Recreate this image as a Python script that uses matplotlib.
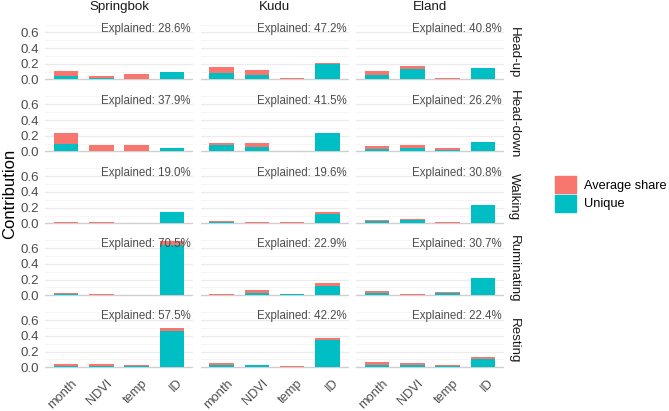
import matplotlib
matplotlib.use("Agg")
import matplotlib.pyplot as plt
from matplotlib.patches import Patch
import matplotlib.transforms as mtrans
import numpy as np

plt.rcParams['font.family'] = ['Liberation Sans', 'DejaVu Sans']

species = ['Springbok', 'Kudu', 'Eland']
behaviours = ['Head-up', 'Head-down', 'Walking', 'Ruminating', 'Resting']
predictors = ['month', 'NDVI', 'temp', 'ID']

# explained variance (%), rows = behaviour, cols = species
explained = [
    [28.6, 47.2, 40.8],
    [37.9, 41.5, 26.2],
    [19.0, 19.6, 30.8],
    [70.5, 22.9, 30.7],
    [57.5, 42.2, 22.4],
]

# unique contribution per behaviour / species / predictor
unique = [
    [[0.046, 0.020, 0.000, 0.100], [0.080, 0.054, 0.000, 0.196], [0.060, 0.130, 0.005, 0.146]],
    [[0.100, 0.000, 0.000, 0.040], [0.080, 0.060, 0.000, 0.230], [0.030, 0.050, 0.015, 0.120]],
    [[0.010, 0.010, 0.010, 0.140], [0.020, 0.010, 0.003, 0.125], [0.025, 0.040, 0.003, 0.230]],
    [[0.012, 0.008, 0.008, 0.640], [0.010, 0.030, 0.015, 0.125], [0.030, 0.008, 0.025, 0.220]],
    [[0.020, 0.017, 0.015, 0.460], [0.033, 0.025, 0.000, 0.346], [0.033, 0.030, 0.015, 0.110]],
]

# average shared contribution
avg_share = [
    [[0.064, 0.026, 0.066, 0.000], [0.080, 0.071, 0.015, 0.014], [0.050, 0.045, 0.008, 0.000]],
    [[0.130, 0.087, 0.080, 0.010], [0.030, 0.050, 0.010, 0.010], [0.040, 0.030, 0.025, 0.000]],
    [[0.010, 0.010, 0.000, 0.010], [0.010, 0.010, 0.012, 0.025], [0.012, 0.010, 0.009, 0.000]],
    [[0.013, 0.004, 0.000, 0.050], [0.010, 0.040, 0.000, 0.035], [0.020, 0.009, 0.015, 0.000]],
    [[0.022, 0.025, 0.010, 0.040], [0.025, 0.008, 0.017, 0.021], [0.034, 0.024, 0.010, 0.015]],
]

col_share = '#F8766D'
col_unique = '#00BFC4'

W, H = 669, 411
fig = plt.figure(figsize=(W / 100, H / 100), dpi=100)

col_left = [45, 200.5, 356]
panel_w = 148
row_top0 = 22.6
row_step = 71.95
panel_h = 59.6
ymin, ymax = -0.0345, 0.7245

x = np.arange(len(predictors))
for r, beh in enumerate(behaviours):
    top = row_top0 + r * row_step
    for c, sp in enumerate(species):
        ax = fig.add_axes([col_left[c] / W, 1 - (top + panel_h) / H, panel_w / W, panel_h / H])
        for y in [0.1, 0.3, 0.5, 0.7]:
            ax.axhline(y, color='#F2F2F2', lw=0.5, zorder=0)
        for y in [0.2, 0.4, 0.6]:
            ax.axhline(y, color='#EBEBEB', lw=0.9, zorder=0)
        ax.axhline(0, color='#CFCFCF', lw=1.0, zorder=0.5)
        u = np.array(unique[r][c])
        a = np.array(avg_share[r][c])
        ax.bar(x, u, width=0.7, color=col_unique, zorder=2)
        ax.bar(x, a, width=0.7, bottom=u, color=col_share, zorder=2)
        ax.set_xlim(-0.6, 3.6)
        ax.set_ylim(ymin, ymax)
        for s in ax.spines.values():
            s.set_visible(False)
        ax.tick_params(length=0)
        ax.set_yticks([0, 0.2, 0.4, 0.6])
        ax.set_xticks(x)
        if c == 0:
            ax.set_yticklabels(['0.0', '0.2', '0.4', '0.6'], fontsize=9.6, color='#4D4D4D')
            ax.tick_params(axis='y', pad=4)
        else:
            ax.set_yticklabels([])
        if r == len(behaviours) - 1:
            off = mtrans.ScaledTranslation(0.09, -0.065, fig.dpi_scale_trans)
            ax.set_xticklabels(predictors, fontsize=9.2, color='#4D4D4D', rotation=45,
                               ha='right', va='center', rotation_mode='anchor')
            for lab in ax.get_xticklabels():
                lab.set_transform(lab.get_transform() + off)
        else:
            ax.set_xticklabels([])
        ax.text(0.985, 1.0, 'Explained: %.1f%%' % explained[r][c], transform=ax.transAxes,
                ha='right', va='top', fontsize=8.3, color='#4D4D4D', zorder=5)
        if r == 0:
            ax.text(0.5, 1.0 + 15.5 / panel_h, sp, transform=ax.transAxes, ha='center',
                    va='center', fontsize=9.6, color='#1A1A1A')
        if c == len(species) - 1:
            ax.text(1.0 + 10 / panel_w, 0.5, beh, transform=ax.transAxes, ha='center',
                    va='center', rotation=270, fontsize=9.6, color='#1A1A1A')

fig.text(10 / W, 1 - 194 / H, 'Contribution', rotation=90, ha='center', va='center',
         fontsize=12, color='black')

handles = [Patch(color=col_share), Patch(color=col_unique)]
fig.legend(handles, ['Average share', 'Unique'], loc='center left',
           bbox_to_anchor=(555 / W, 1 - 194 / H), frameon=False, fontsize=9.2,
           handlelength=1.62, handleheight=1.65, labelspacing=0.14, handletextpad=0.66,
           borderpad=0, borderaxespad=0)

fig.savefig('out.png', dpi=100, facecolor='white')
